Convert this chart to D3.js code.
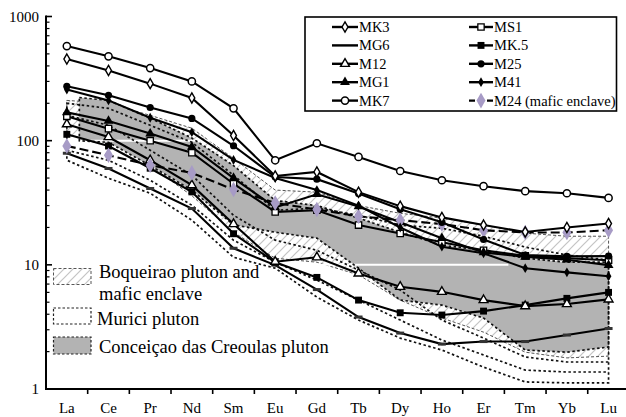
<!DOCTYPE html>
<html><head><meta charset="utf-8">
<script src="https://cdn.jsdelivr.net/npm/d3@7"></script>
<style>
body{margin:0;background:#fff}
svg{display:block}
text{font-family:"Liberation Serif","DejaVu Serif",serif;fill:#000}
</style>
</head><body>
<svg id="chart" width="626" height="417" font-family="Liberation Serif, DejaVu Serif, serif"></svg>
<script>
// ---------- DATA (chondrite-normalised REE) ----------
const REE = ["La","Ce","Pr","Nd","Sm","Eu","Gd","Tb","Dy","Ho","Er","Tm","Yb","Lu"];
const yTickValues = [1, 10, 100, 1000];

const MK3  = [454, 368, 288, 221, 110, 52, 56, 38.5, 29.7, 24.1, 20.9, 18.4, 20.0, 21.5];
const MG6  = [79.2, 59.7, 41.2, 28.4, 13.6, 9.95, 6.32, 3.8, 2.82, 2.30, 2.41, 2.41, 2.72, 3.07];
const M12  = [135.6, 107, 69.6, 43.8, 21.3, 10.6, 11.5, 8.53, 6.65, 6.06, 5.2, 4.65, 4.83, 5.27];
const MG1  = [169, 144, 114, 89, 50, 29, 37, 29.5, 22, 16.4, 12.6, 11.6, 11.0, 9.95];
const MK7  = [578, 478, 384, 300, 182, 69.5, 95.3, 74, 57, 48, 43, 39.2, 37.7, 34.6];
const MS1  = [157, 125, 100, 80, 45, 26.7, 27.5, 20.9, 17.9, 15.2, 13.1, 11.8, 11.3, 10.9];
const MK5  = [112.5, 90.6, 60, 38.7, 17.8, 10.5, 7.92, 5.2, 4.11, 3.94, 4.24, 4.74, 5.37, 6.0];
const M25  = [274, 232, 185, 151, 91, 51, 49, 37.5, 28, 22, 16, 12.0, 11.7, 11.75];
const M41  = [258, 211, 153, 117, 70, 50, 40, 30, 20, 14, 12.4, 9.4, 8.7, 8.1];
const M24  = [90.7, 76.3, 63.4, 55, 40.4, 31.5, 27.9, 24.6, 22.9, 21.3, 19.0, 18.2, 18.2, 19.0];

// Field envelopes
const conceicaoUpper = [228, 211, 152, 105, 63, 33, 30, 23.8, 18.3, 14.4, 13.1, 11.3, 10.5, 10.5];
const conceicaoLower = [101, 97, 63, 40, 21, 18.3, 16.4, 9.4, 5.2, 4.74, 3.73, 2.06, 1.98, 2.18];
const boqueiraoUpper = [211, 200, 160, 126, 72, 40, 38.5, 30, 26, 23.8, 20.9, 18, 17, 17];
const boqueiraoLower = [110, 101, 63, 36, 18.3, 11.3, 10.5, 8.3, 5.2, 3.73, 2.87, 1.98, 1.78, 1.84];
const muriciUpper = [200, 182, 133, 97, 52.7, 27.5, 28.6, 25.1, 20.9, 19.7, 17, 13.9, 12, 10.9];
const muriciLower = [69.6, 49.8, 37.7, 22.9, 11.5, 9.4, 5.5, 3.59, 2.57, 2.06, 1.50, 1.14, 1.12, 1.12];
const muriciMid1  = [160, 133, 83.7, 52.7, 25.1, 15.8, 13.1, 9.06, 6.26, 3.59, 2.57, 1.81, 1.65, 1.65];
const muriciMid2  = [83.7, 69.6, 48, 30.2, 15.8, 10.5, 7.53, 5.2, 3.59, 2.48, 1.88, 1.42, 1.37, 1.37];

const fieldNames = ["Boqueirao pluton and", "mafic enclave", "Murici pluton", "Conceiçao das Creoulas pluton"];

// ---------- SETUP ----------
const svg = d3.select("#chart");
const PL = 46, PR = 629.4, PT = 16.5, PB = 389;
const xBand = d3.scaleBand().domain(REE).range([PL, PR]);
const half = xBand.bandwidth() / 2;
const x = d3.scaleLinear().domain([0, REE.length - 1])
  .range([xBand(REE[0]) + half, xBand(REE[REE.length - 1]) + half]);
const y = d3.scaleLog().domain([1, 1000]).range([PB, PT]);

const defs = svg.append("defs");
const hatch = defs.append("pattern").attr("id", "hatch").attr("patternUnits", "userSpaceOnUse")
  .attr("width", 9).attr("height", 9);
hatch.append("rect").attr("width", 9).attr("height", 9).attr("fill", "#fff");
hatch.append("path").attr("d", "M-2,2 l4,-4 M0,9 l9,-9 M7,11 l4,-4")
  .attr("stroke", "#c4c4c4").attr("stroke-width", 1.2);
defs.append("clipPath").attr("id", "legclip").append("rect")
  .attr("x", 305).attr("y", 17).attr("width", 311).attr("height", 94);

const line = d3.line().x(d => x(d[0])).y(d => y(d[1]));
const pts = arr => arr.map((v, i) => [i, v]);

function envelope(upper, lower, start) {
  const up = pts(upper), lo = pts(lower);
  if (start) {
    const lerp = (a, b) => Math.exp(Math.log(a) + (Math.log(b) - Math.log(a)) * start);
    up[0] = [start, lerp(upper[0], upper[1])];
    lo[0] = [start, lerp(lower[0], lower[1])];
  }
  return line(up.concat(lo.reverse())) + "Z";
}

// ---------- FIELDS ----------
const fields = svg.append("g");
fields.append("path").attr("d", envelope(boqueiraoUpper, boqueiraoLower))
  .attr("fill", "url(#hatch)").attr("stroke", "#555").attr("stroke-width", 1)
  .attr("stroke-dasharray", "3,2");
fields.append("path").attr("d", envelope(conceicaoUpper, conceicaoLower, 0.3))
  .attr("fill", "#b3b3b3").attr("stroke", "none");

// white decade gridlines (visible only over the shaded field)
svg.append("line").attr("x1", PL + 2).attr("x2", 626).attr("y1", y(100)).attr("y2", y(100))
  .attr("stroke", "#fff").attr("stroke-width", 2);
svg.append("line").attr("x1", PL + 2).attr("x2", xBand("Tm") + 4).attr("y1", y(10)).attr("y2", y(10))
  .attr("stroke", "#fff").attr("stroke-width", 2);

const dotted = svg.append("g").attr("fill", "none").attr("stroke", "#111")
  .attr("stroke-width", 1.7).attr("stroke-dasharray", "2.5,2.5");
dotted.append("path").attr("d", envelope(conceicaoUpper, conceicaoLower, 0.3));
dotted.append("path").attr("d", envelope(muriciUpper, muriciLower));
dotted.append("path").attr("d", line(pts(muriciMid1)));
dotted.append("path").attr("d", line(pts(muriciMid2)));

// ---------- SERIES ----------
const purple = "#a79bc6";
const sym = (type, size) => d3.symbol().type(type).size(size)();
const seriesDefs = [
  {name: "MG6",  data: MG6,  marker: "dash"},
  {name: "MK.5", data: MK5,  marker: "sqF"},
  {name: "M12",  data: M12,  marker: "triO"},
  {name: "MS1",  data: MS1,  marker: "sqO"},
  {name: "MG1",  data: MG1,  marker: "triF"},
  {name: "M24 (mafic enclave)", data: M24, marker: "diaP", dash: "9,4"},
  {name: "M41",  data: M41,  marker: "diaF"},
  {name: "M25",  data: M25,  marker: "cirF"},
  {name: "MK3",  data: MK3,  marker: "diaO"},
  {name: "MK7",  data: MK7,  marker: "cirO"}
];

function drawMarker(g, kind, cx, cy) {
  const t = `translate(${cx},${cy})`;
  switch (kind) {
    case "cirO": g.append("circle").attr("cx", cx).attr("cy", cy).attr("r", 3.6)
      .attr("fill", "#fff").attr("stroke", "#000").attr("stroke-width", 1.5); break;
    case "cirF": g.append("circle").attr("cx", cx).attr("cy", cy).attr("r", 3.6).attr("fill", "#000"); break;
    case "diaO": g.append("path").attr("d", sym(d3.symbolDiamond, 30)).attr("transform", t)
      .attr("fill", "#fff").attr("stroke", "#000").attr("stroke-width", 1.4); break;
    case "diaF": g.append("path").attr("d", sym(d3.symbolDiamond, 28)).attr("transform", t)
      .attr("fill", "#000"); break;
    case "diaP": g.append("path").attr("d", sym(d3.symbolDiamond, 70)).attr("transform", t)
      .attr("fill", purple); break;
    case "triO": g.append("path").attr("d", sym(d3.symbolTriangle, 34)).attr("transform", t)
      .attr("fill", "#fff").attr("stroke", "#000").attr("stroke-width", 1.4); break;
    case "triF": g.append("path").attr("d", sym(d3.symbolTriangle, 42)).attr("transform", t)
      .attr("fill", "#000"); break;
    case "sqO": g.append("path").attr("d", sym(d3.symbolSquare, 40)).attr("transform", t)
      .attr("fill", "#fff").attr("stroke", "#000").attr("stroke-width", 1.3); break;
    case "sqF": g.append("path").attr("d", sym(d3.symbolSquare, 48)).attr("transform", t)
      .attr("fill", "#000"); break;
    case "dash": g.append("rect").attr("x", cx - 4).attr("y", cy - 1.5).attr("width", 8).attr("height", 3)
      .attr("fill", "#333"); break;
  }
}

const sg = svg.append("g");
seriesDefs.forEach(s => {
  const g = sg.append("g");
  g.append("path").attr("d", line(pts(s.data))).attr("fill", "none")
    .attr("stroke", "#000").attr("stroke-width", 2.1)
    .attr("stroke-dasharray", s.dash || null);
  s.data.forEach((v, i) => drawMarker(g, s.marker, x(i), y(v)));
});

// ---------- AXES ----------
const ax = svg.append("g");
ax.append("line").attr("x1", PL).attr("x2", PL).attr("y1", PT - 1).attr("y2", PB + 1)
  .attr("stroke", "#000").attr("stroke-width", 2);
ax.append("line").attr("x1", PL - 1).attr("x2", 626).attr("y1", PB).attr("y2", PB)
  .attr("stroke", "#000").attr("stroke-width", 2);
for (let d = 1; d < 1000; d *= 10) {
  for (let m = 2; m <= 9; m++) {
    ax.append("line").attr("x1", PL).attr("x2", PL + 3.5).attr("y1", y(d * m)).attr("y2", y(d * m))
      .attr("stroke", "#000").attr("stroke-width", 1.2);
  }
}
yTickValues.forEach(v => {
  ax.append("line").attr("x1", PL).attr("x2", PL + 6).attr("y1", y(v)).attr("y2", y(v))
    .attr("stroke", "#000").attr("stroke-width", 1.6);
  ax.append("text").attr("x", 39).attr("y", y(v) + 5).attr("text-anchor", "end")
    .attr("font-size", 15).text(v);
});
REE.forEach((r, i) => {
  if (i > 0) ax.append("line").attr("x1", xBand(r)).attr("x2", xBand(r)).attr("y1", PB).attr("y2", PB + 5)
    .attr("stroke", "#000").attr("stroke-width", 1.6);
  ax.append("text").attr("x", x(i)).attr("y", 413).attr("text-anchor", "middle")
    .attr("font-size", 15).text(r);
});

// ---------- LEGEND (series) ----------
const leg = svg.append("g");
leg.append("rect").attr("x", 305).attr("y", 17).attr("width", 311.5).attr("height", 94)
  .attr("fill", "#fff").attr("stroke", "#000").attr("stroke-width", 1.6);
const legOrder = [
  ["MK3", "diaO"], ["MG6", "dash0"], ["M12", "triO"], ["MG1", "triF"], ["MK7", "cirO"],
  ["MS1", "sqO"], ["MK.5", "sqF"], ["M25", "cirF"], ["M41", "diaF"], ["M24 (mafic enclave)", "diaP"]
];
const lg = leg.append("g").attr("clip-path", "url(#legclip)");
legOrder.forEach((e, k) => {
  const col = k < 5 ? 0 : 1, row = k % 5;
  const cy = 27 + row * 18.4;
  const x1 = col ? 469 : 332, x2 = col ? 493 : 358;
  lg.append("line").attr("x1", x1).attr("x2", x2).attr("y1", cy).attr("y2", cy)
    .attr("stroke", "#000").attr("stroke-width", 2.4)
    .attr("stroke-dasharray", e[1] === "diaP" ? "6,3" : null);
  if (e[1] !== "dash0") drawMarker(lg, e[1], (x1 + x2) / 2, cy);
  lg.append("text").attr("x", x2 + 1).attr("y", cy + 5).attr("font-size", 14.5).text(e[0]);
});

// ---------- LEGEND (fields) ----------
const fl = svg.append("g");
fl.append("rect").attr("x", 53.5).attr("y", 268.5).attr("width", 37.5).attr("height", 16)
  .attr("fill", "url(#hatch)").attr("stroke", "#555").attr("stroke-width", 1).attr("stroke-dasharray", "3,2");
fl.append("rect").attr("x", 53.5).attr("y", 308).attr("width", 37.5).attr("height", 16)
  .attr("fill", "#fff").attr("stroke", "#222").attr("stroke-width", 1.2).attr("stroke-dasharray", "2.5,2");
fl.append("rect").attr("x", 53.5).attr("y", 337).attr("width", 37.5).attr("height", 17)
  .attr("fill", "#b3b3b3").attr("stroke", "#222").attr("stroke-width", 1.2).attr("stroke-dasharray", "2.5,2");
fl.append("text").attr("x", 99).attr("y", 277.5).attr("font-size", 18.5).text(fieldNames[0]);
fl.append("text").attr("x", 99).attr("y", 300).attr("font-size", 18.5).text(fieldNames[1]);
fl.append("text").attr("x", 97).attr("y", 325).attr("font-size", 18.5).text(fieldNames[2]);
fl.append("text").attr("x", 99).attr("y", 352.5).attr("font-size", 18.5).text(fieldNames[3]);
</script>
</body></html>
